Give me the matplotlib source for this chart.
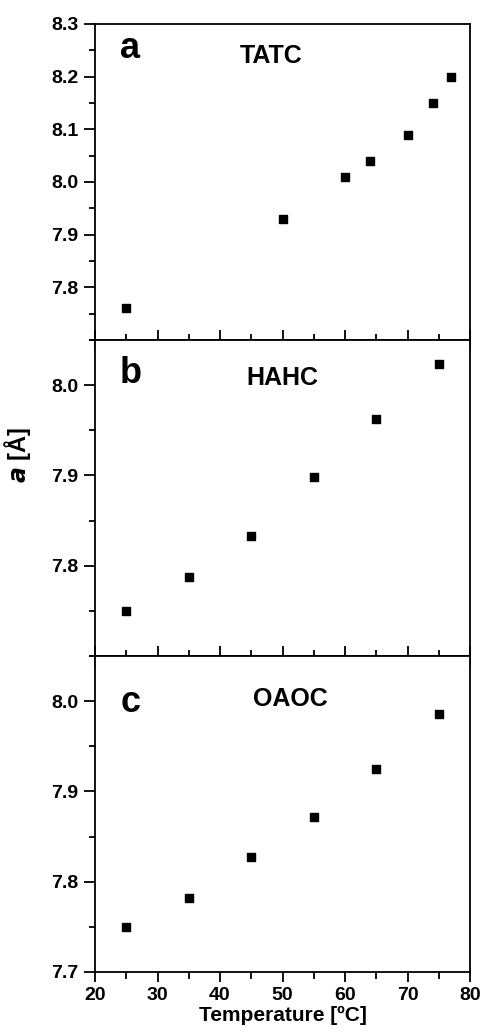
import matplotlib
matplotlib.use('Agg')
import matplotlib.pyplot as plt
from matplotlib.ticker import MultipleLocator, FormatStrFormatter

plt.rcParams['font.family'] = ['Liberation Sans', 'DejaVu Sans']
plt.rcParams['font.weight'] = 'bold'

# panel a: TATC
temp_a = [25, 50, 60, 64, 70, 74, 77]
a_tatc = [7.76, 7.93, 8.01, 8.04, 8.09, 8.15, 8.20]

# panel b: HAHC
temp_b = [25, 35, 45, 55, 65, 75]
a_hahc = [7.750, 7.787, 7.833, 7.898, 7.962, 8.023]

# panel c: OAOC
temp_c = [25, 35, 45, 55, 65, 75]
a_oaoc = [7.750, 7.782, 7.827, 7.872, 7.925, 7.986]

panels = [
    ('a', 'TATC', temp_a, a_tatc, (7.7, 8.3), [7.8, 7.9, 8.0, 8.1, 8.2, 8.3]),
    ('b', 'HAHC', temp_b, a_hahc, (7.7, 8.05), [7.8, 7.9, 8.0]),
    ('c', 'OAOC', temp_c, a_oaoc, (7.7, 8.05), [7.7, 7.8, 7.9, 8.0]),
]
# text positions (axes fraction): letter baseline, name x, name baseline
letter_y = [0.892, 0.863, 0.824]
name_x = [0.387, 0.405, 0.42]
name_y = [0.878, 0.858, 0.843]

fig = plt.figure(figsize=(4.83, 10.32), dpi=100)
left, right = 95 / 483, 470 / 483
bounds = [(24, 340), (340, 656), (656, 972)]

axes = []
for i, (letter, name, x, y, ylim, yticks) in enumerate(panels):
    top, bot = bounds[i]
    ax = fig.add_axes([left, 1 - bot / 1032, right - left, (bot - top) / 1032])
    ax.scatter(x, y, marker='s', s=38, color='black', zorder=3)
    ax.set_xlim(20, 80)
    ax.set_ylim(*ylim)
    ax.set_yticks(yticks)
    ax.yaxis.set_minor_locator(MultipleLocator(0.05))
    ax.xaxis.set_major_locator(MultipleLocator(10))
    ax.xaxis.set_minor_locator(MultipleLocator(5))
    ax.yaxis.set_major_formatter(FormatStrFormatter('%.1f'))
    for sp in ax.spines.values():
        sp.set_linewidth(1.3)
    ax.tick_params(axis='y', which='major', direction='out', length=8, width=1.3, labelsize=14, pad=4)
    ax.tick_params(axis='y', which='minor', direction='out', length=4.5, width=1.3)
    if i < 2:
        ax.tick_params(axis='x', which='major', direction='inout', length=14, width=1.3, labelbottom=False)
        ax.tick_params(axis='x', which='minor', direction='inout', length=8, width=1.3)
    else:
        ax.tick_params(axis='x', which='major', direction='out', length=7, width=1.3, labelsize=14, pad=4)
        ax.tick_params(axis='x', which='minor', direction='out', length=5, width=1.3)
    ax.text(0.067, letter_y[i], letter, transform=ax.transAxes, fontsize=26,
            fontweight='bold', va='baseline', ha='left')
    ax.text(name_x[i], name_y[i], name, transform=ax.transAxes, fontsize=18,
            fontweight='bold', va='baseline', ha='left')
    axes.append(ax)

axes[2].set_xlabel('Temperature [ºC]', fontsize=15, fontweight='bold', labelpad=1)
fig.text(0.037, 0.559, r'$\mathbfit{a}$ [Å]', rotation=90, fontsize=17,
         fontweight='bold', va='center', ha='center')

fig.savefig('out.png', dpi=100)
